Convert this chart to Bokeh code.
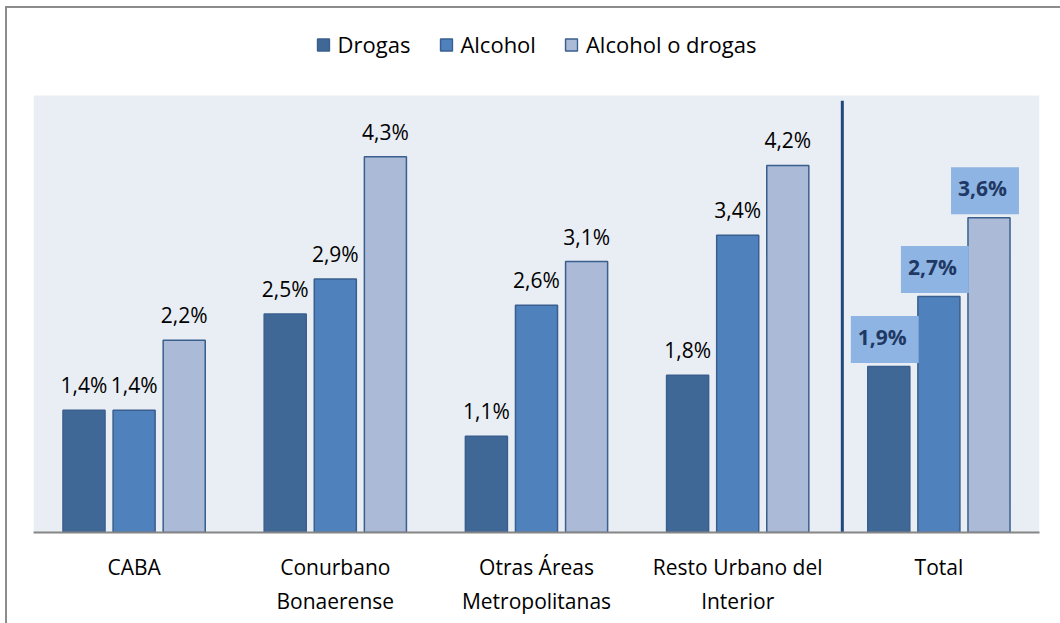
from bokeh.plotting import figure
from bokeh.models import (ColumnDataSource, Range1d, LinearAxis, FixedTicker, Legend,
                          LegendItem, BoxAnnotation)
from bokeh.transform import dodge
from bokeh.core.properties import value
from bokeh.embed import file_html
from bokeh.resources import INLINE

# ---- data ----
categories_line1 = ["CABA", "Conurbano", "Otras Áreas", "Resto Urbano del", "Total"]
categories_line2 = ["", "Bonaerense", "Metropolitanas", "Interior", ""]
drogas = [1.4, 2.5, 1.1, 1.8, 1.9]
alcohol = [1.4, 2.9, 2.6, 3.4, 2.7]
alcohol_o_drogas = [2.2, 4.3, 3.1, 4.2, 3.6]
series_names = ["Drogas", "Alcohol", "Alcohol o drogas"]

colors = ["#3F6897", "#4F81BD", "#AABAD7"]
outline = "#3A5F8E"
FONT = "Open Sans"
Y_MAX = 5.0


def fmt(v):
    return f"{v:.1f}".replace(".", ",") + "%"


idx = list(range(len(categories_line1)))
offsets = [-0.249, 0.0, 0.249]

src = ColumnDataSource(dict(
    x=idx,
    drogas=drogas, alcohol=alcohol, aod=alcohol_o_drogas,
    l_drogas=[fmt(v) for v in drogas],
    l_alcohol=[fmt(v) for v in alcohol],
    l_aod=[fmt(v) for v in alcohol_o_drogas],
))
n = len(idx) - 1
src_main = ColumnDataSource({k: v[:n] for k, v in src.data.items()})
src_tot = ColumnDataSource({k: v[n:] for k, v in src.data.items()})

FRAME_H = 519
PLOT_H = 437
p = figure(frame_width=1006, frame_height=FRAME_H, output_backend="svg", toolbar_location=None,
           x_range=Range1d(-0.5, len(idx) - 0.5),
           y_range=Range1d(0, Y_MAX * FRAME_H / PLOT_H),
           min_border_left=33, min_border_right=21, min_border_top=13, min_border_bottom=91)
p.background_fill_color = "white"
p.border_fill_alpha = 0
p.outline_line_color = None
p.xgrid.visible = False
p.ygrid.visible = False
p.yaxis.visible = False
p.styles = {"box-shadow": "inset 5px 6px 0 0 white, inset 7px 8px 0 0 #8C8C8C",
            "background-color": "white"}

# plot-area background
p.add_layout(BoxAnnotation(bottom=0, top=Y_MAX, fill_color="#E9EDF4", fill_alpha=1,
                           line_color=None, level="underlay"))

cols = ["drogas", "alcohol", "aod"]
lcols = ["l_drogas", "l_alcohol", "l_aod"]
renderers = []
for c, off, col in zip(cols, offsets, colors):
    r = p.vbar(x=dodge("x", off, range=p.x_range), top=c, width=0.209, source=src,
               fill_color=col, line_color=outline, line_width=1.5)
    renderers.append(r)

# separator line before Total
p.segment(x0=[n - 0.48], x1=[n - 0.48], y0=[-0.1], y1=[4.94],
          line_color="#1F497D", line_width=3)

# labels
for c, lc, off in zip(cols, lcols, offsets):
    p.text(x=dodge("x", off, range=p.x_range), y=c, text=lc, source=src_main,
           text_align="center", text_baseline="middle", y_offset=-25,
           text_font=value(FONT), text_font_size="21px", text_color="#000000")
    p.text(x=dodge("x", off, range=p.x_range), y=c, text=lc, source=src_tot,
           text_align="center", text_baseline="middle", y_offset=-27, x_offset=-4,
           text_font=value(FONT), text_font_size="21px", text_font_style="bold",
           text_color="#1F3864", background_fill_color="#8DB4E2",
           padding=(7, 12, 7, 12))

# x axes (two lines of category labels)
ticks = FixedTicker(ticks=idx)
ax1 = p.xaxis[0]
ax1.ticker = ticks
ax1.major_label_overrides = {i: t for i, t in zip(idx, categories_line1)}
ax1.axis_line_color = "#868686"
ax1.axis_line_width = 2
ax1.major_tick_line_color = None
ax1.minor_tick_line_color = None
ax1.major_tick_out = 0
ax1.major_tick_in = 0
ax1.minor_tick_out = 0
ax1.major_label_standoff = 20
ax1.major_label_text_font = FONT
ax1.major_label_text_font_size = "21px"
ax1.major_label_text_color = "#000000"

ax2 = LinearAxis(ticker=ticks,
                 major_label_overrides={i: t for i, t in zip(idx, categories_line2)})
ax2.axis_line_color = None
ax2.major_tick_line_color = None
ax2.minor_tick_line_color = None
ax2.major_tick_out = 0
ax2.major_tick_in = 0
ax2.minor_tick_out = 0
ax2.major_label_standoff = 3
ax2.major_label_text_font = FONT
ax2.major_label_text_font_size = "21px"
ax2.major_label_text_color = "#000000"
p.add_layout(ax2, "below")

legend = Legend(items=[LegendItem(label=s, renderers=[r]) for s, r in zip(series_names, renderers)],
                orientation="horizontal", location="top_center")
legend.label_text_font = FONT
legend.label_text_font_size = "22px"
legend.label_text_color = "#000000"
legend.border_line_color = None
legend.background_fill_alpha = 0
legend.glyph_width = 15
legend.glyph_height = 15
legend.label_standoff = 7
legend.spacing = 28
legend.padding = 8
legend.margin = 16
p.add_layout(legend, "center")

open("out.html", "w").write(file_html(p, INLINE))
